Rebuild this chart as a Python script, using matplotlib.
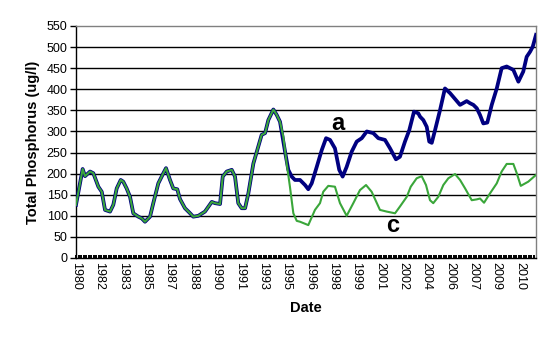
import numpy as np
import matplotlib
matplotlib.use("Agg")
import matplotlib.pyplot as plt
from matplotlib.ticker import FixedLocator, MultipleLocator

# ---- data (decimal years, ug/l) ----
common_years = [1980.00, 1980.45, 1980.61, 1980.95, 1981.17, 1981.51, 1981.74, 1981.96,
                1982.30, 1982.52, 1982.75, 1983.02, 1983.19, 1983.42, 1983.65, 1983.87,
                1984.21, 1984.44, 1984.66, 1985.00, 1985.22, 1985.56, 1985.90, 1986.08,
                1986.35, 1986.57, 1986.84, 1987.02, 1987.36, 1987.65, 1987.92, 1988.26,
                1988.71, 1989.17, 1989.39, 1989.73, 1989.91, 1990.18, 1990.52, 1990.74,
                1990.96, 1991.19, 1991.42, 1991.64, 1991.98, 1992.31, 1992.54, 1992.77,
                1992.99, 1993.33, 1993.56, 1993.78]
common_vals = [126, 211, 194, 205, 201, 169, 157, 114,
               110, 126, 165, 185, 181, 165, 145, 106,
               98, 94, 86, 98, 130, 177, 201, 213,
               185, 165, 163, 140, 118, 108, 98, 100,
               110, 133, 130, 128, 193, 205, 209, 193,
               130, 118, 118, 153, 224, 264, 292, 296,
               327, 352, 339, 323]

a_years = [1994.12, 1994.34, 1994.57, 1994.79, 1995.13, 1995.47, 1995.69, 1995.92,
           1996.26, 1996.60, 1996.89, 1997.16, 1997.49, 1997.78, 1998.01, 1998.28,
           1998.62, 1998.96, 1999.30, 1999.64, 2000.08, 2000.42, 2000.87, 2001.21,
           2001.61, 2001.88, 2002.22, 2002.51, 2002.83, 2003.12, 2003.24, 2003.46,
           2003.69, 2003.86, 2004.03, 2004.25, 2004.59, 2004.92, 2005.26, 2005.48,
           2005.94, 2006.39, 2006.61, 2006.84, 2007.07, 2007.29, 2007.51, 2007.78,
           2008.08, 2008.42, 2008.75, 2009.09, 2009.54, 2009.88, 2010.21, 2010.44,
           2010.67, 2010.85, 2011.07]
a_vals = [252, 209, 193, 185, 185, 173, 163, 177,
          216, 256, 284, 280, 260, 209, 193, 216,
          252, 276, 284, 300, 296, 284, 280, 260,
          234, 240, 276, 303, 347, 343, 335, 327,
          311, 276, 273, 303, 351, 402, 391, 382,
          363, 372, 367, 363, 355, 339, 319, 321,
          363, 402, 450, 454, 446, 418, 442, 477,
          489, 501, 529]

c_years = [1994.00, 1994.23, 1994.45, 1994.68, 1994.91, 1995.13, 1995.69, 1996.14,
           1996.48, 1996.70, 1997.04, 1997.49, 1997.83, 1998.28, 1998.73, 1999.18,
           1999.59, 1999.97, 2000.53, 2000.99, 2001.55, 2001.88, 2002.34, 2002.61,
           2003.01, 2003.35, 2003.64, 2003.91, 2004.13, 2004.47, 2004.81, 2005.15,
           2005.60, 2005.94, 2006.28, 2006.73, 2007.07, 2007.29, 2007.56, 2007.96,
           2008.42, 2008.75, 2009.09, 2009.54, 2009.77, 2010.04, 2010.55, 2011.07]
c_vals = [288, 224, 169, 106, 88, 86, 78, 114,
          130, 157, 171, 169, 130, 100, 130, 161,
          173, 157, 114, 110, 106, 122, 145, 169,
          189, 194, 173, 137, 130, 145, 173, 189,
          199, 185, 165, 137, 139, 141, 131, 153,
          177, 205, 223, 223, 201, 171, 181, 197]

tick_labels = ["1980", "1982", "1983", "1985", "1987", "1988", "1990", "1991", "1993",
               "1995", "1996", "1998", "1999", "2001", "2002", "2004", "2006", "2007",
               "2009", "2010"]

# ---- figure ----
plt.rcParams['font.family'] = ['Liberation Sans', 'DejaVu Sans']
fig = plt.figure(figsize=(5.51, 3.42), dpi=100)
ax = fig.add_axes([76/551, 1-258/342, 460/551, 232/342])

x_start, x_end = 1980.0, 2011.07
tick_step = 1.579

for y in range(50, 550, 50):
    ax.axhline(y, color='black', lw=1.0, zorder=1)

ax.plot(common_years + a_years, common_vals + a_vals, color='#000080', lw=2.7,
        solid_joinstyle='round', zorder=3)
ax.plot(common_years + c_years, common_vals + c_vals, color='#3aa63a', lw=1.5,
        solid_joinstyle='round', zorder=4)

ax.set_xlim(x_start, x_end)
ax.set_ylim(0, 550)
ax.yaxis.set_major_locator(MultipleLocator(50))
ticks = [x_start + 0.001 + k * tick_step for k in range(len(tick_labels))]
ax.xaxis.set_major_locator(FixedLocator(ticks))
ax.set_xticklabels(tick_labels, rotation=-90, fontsize=9)
ax.xaxis.set_minor_locator(MultipleLocator(0.169))
ax.tick_params(axis='x', which='major', length=0, pad=3)
ax.tick_params(axis='x', which='minor', direction='in', length=2.5, width=1.4, color='black')
ax.tick_params(axis='y', which='major', length=4, width=1, labelsize=9, pad=2)

for s in ['top', 'right']:
    ax.spines[s].set_color('#808080')
    ax.spines[s].set_linewidth(1.0)
for s in ['left', 'bottom']:
    ax.spines[s].set_color('black')
    ax.spines[s].set_linewidth(1.0)

ax.set_ylabel("Total Phosphorus (ug/l)", fontsize=10.5, fontweight='bold', labelpad=5)
ax.set_xlabel("Date", fontsize=10.5, fontweight='bold', labelpad=8)

ax.text(1997.68, 320, "a", fontsize=17, fontweight='bold', ha='center', va='center', zorder=5)
ax.text(2001.41, 76, "c", fontsize=17, fontweight='bold', ha='center', va='center', zorder=5)

fig.savefig("out.png", dpi=100)
